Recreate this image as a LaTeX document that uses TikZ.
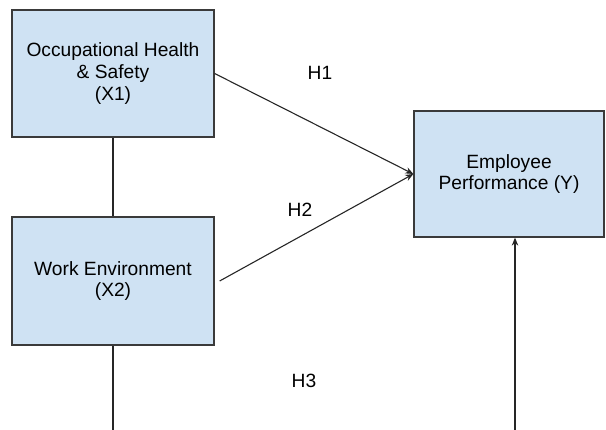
\documentclass[tikz,border=0pt]{standalone}
\usepackage{fontspec}
\setmainfont{Liberation Sans}
\usetikzlibrary{arrows.meta}
\definecolor{boxblue}{HTML}{CFE2F3}
\definecolor{edgegray}{HTML}{3A3A3A}

\begin{document}
\begin{tikzpicture}[x=1pt, y=-1pt, font=\fontsize{19.2}{21.7}\selectfont,
  var/.style={rectangle, draw=edgegray, line width=1.3pt, fill=boxblue, inner sep=0pt, align=center},
  link/.style={draw=black!85, line width=1.1pt},
  hyp/.style={-{Stealth[length=8pt, width=6.5pt]}}]
\useasboundingbox (0,0) rectangle (606,430);
\node[var, minimum width=202pt, minimum height=127pt] (x1) at (113,73.5){Occupational Health\\\& Safety\\(X1)};
\node[var, minimum width=202pt, minimum height=128pt] (x2) at (113,281){Work Environment\\(X2)};
\node[var, minimum width=190pt, minimum height=126pt] (emp) at (509,174){Employee\\Performance (Y)};
\coordinate (x2end) at (113,430);
\coordinate (h3end) at (515,430);
\draw[link](x1.south) -- (x2.north);
\draw[link](x2.south) -- (x2end);
\draw[link, hyp](x1.east) -- (emp.west);
\draw[link, hyp]([xshift=5pt]x2.east) -- (emp.west);
\draw[link, hyp](h3end) -- (h3end |- emp.south);
\node (h1) at (320,73){H1};
\node (h2) at (300,210){H2};
\node (h3) at (304,381){H3};
\end{tikzpicture}
\end{document}
